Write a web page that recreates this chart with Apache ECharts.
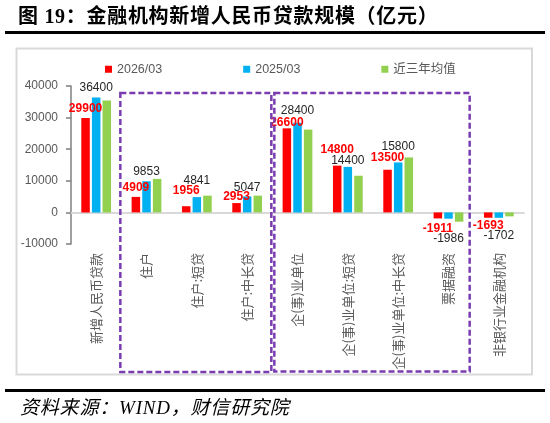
<!DOCTYPE html>
<html lang="zh">
<head>
    <meta charset="UTF-8">
    <title>金融机构新增人民币贷款规模</title>
    <script src="https://cdn.jsdelivr.net/npm/echarts@6/dist/echarts.min.js"></script>
    <style>
        body, html {
            margin: 0;
            padding: 0;
            background: #fff;
        }

        #page {
            position: relative;
            width: 550px;
            height: 423px;
            overflow: hidden;
        }

        #chart {
            position: absolute;
            left: 0;
            top: 0;
            width: 550px;
            height: 423px;
        }

        .title {
            position: absolute;
            left: 18px;
            top: 4px;
            font: bold 20px "Liberation Serif", "Noto Sans CJK SC", serif;
            line-height: 24px;
            letter-spacing: 0.7px;
            white-space: nowrap;
            color: #000;
        }

        .rule {
            position: absolute;
            left: 5px;
            width: 540px;
            background: #000;
        }

        .source {
            position: absolute;
            left: 20px;
            top: 397px;
            font: italic 19px "Liberation Serif", "Noto Sans CJK SC", serif;
            line-height: 22px;
            letter-spacing: 0.8px;
            white-space: nowrap;
            color: #000;
        }
    </style>
</head>
<body>

<div id="page">
    <div id="chart"></div>
    <div class="title">图 19：金融机构新增人民币贷款规模（亿元）</div>
    <div class="rule" style="top: 31px; height: 2.5px;"></div>
    <div class="rule" style="top: 389px; height: 3px;"></div>
    <div class="source">资料来源：WIND，财信研究院</div>
</div>

<script>
    // 分类
    const categories = ['新增人民币贷款', '住户', '住户:短贷', '住户:中长贷', '企(事)业单位',
        '企(事)业单位:短贷', '企(事)业单位:中长贷', '票据融资', '非银行业金融机构'];

    // 各序列数值（亿元）
    const values2026 = [29900, 4909, 1956, 2953, 26600, 14800, 13500, -1911, -1693];
    const values2025 = [36400, 9853, 4841, 5047, 28400, 14400, 15800, -1986, -1702];
    const valuesAvg3y = [35400, 10600, 5300, 5300, 26200, 11600, 17400, -2950, -1250];

    const seriesNames = ['2026/03', '2025/03', '近三年均值'];

    // 坐标轴刻度
    const yMin = -10000;
    const yMax = 40000;
    const yStep = 10000;

    // 数据标签离柱端的距离（原图里标签是手动错开的）
    const labelGap2026 = [3, 3, 10, 0, 0, 10, 6, 4, 2];
    const labelGap2025 = [4, 4, 10, 3, 6, 0, 10, 14, 12];

    const chart = echarts.init(document.getElementById('chart'));

    function withLabels(values, gaps) {
        return values.map((v, i) => ({
            value: v,
            label: {position: v < 0 ? 'bottom' : 'top', distance: gaps[i]}
        }));
    }

    const option = {
        animation: false,
        legend: {
            data: seriesNames,
            left: 100,
            top: 58,
            itemWidth: 7,
            itemHeight: 7,
            itemGap: 81,
            icon: 'rect',
            textStyle: {color: '#595959', fontSize: 12.5, fontFamily: 'Liberation Sans, Noto Sans CJK SC'}
        },
        grid: {left: 71, right: 26, top: 86, bottom: 179},
        xAxis: [
            {
                type: 'category',
                data: categories,
                position: 'bottom',
                axisLine: {show: false, onZero: false},
                axisTick: {show: false},
                axisLabel: {
                    interval: 0,
                    rotate: 90,
                    margin: 9,
                    color: '#595959',
                    fontSize: 13,
                    fontFamily: 'Noto Sans CJK SC'
                }
            },
            {
                // 零线
                type: 'category',
                data: categories,
                position: 'bottom',
                axisLine: {show: true, onZero: true, lineStyle: {color: '#d9d9d9', width: 2}},
                axisTick: {show: false},
                axisLabel: {show: false}
            }
        ],
        yAxis: {
            type: 'value',
            min: yMin,
            max: yMax,
            interval: yStep,
            axisLine: {show: true, onZero: false, lineStyle: {color: '#7f7f7f', width: 1.5}},
            axisTick: {show: true, length: 5, lineStyle: {color: '#7f7f7f', width: 1.5}},
            splitLine: {show: false},
            axisLabel: {
                color: '#595959',
                fontSize: 12,
                margin: 13,
                fontFamily: 'Liberation Sans',
                formatter: value => String(value)
            }
        },
        series: [
            {
                name: seriesNames[0],
                type: 'bar',
                barWidth: 8.5,
                barGap: '25%',
                itemStyle: {color: '#ff0000'},
                label: {
                    show: true,
                    color: '#ff0000',
                    fontWeight: 'bold',
                    fontSize: 12,
                    fontFamily: 'Liberation Sans'
                },
                data: withLabels(values2026, labelGap2026)
            },
            {
                name: seriesNames[1],
                type: 'bar',
                barWidth: 8.5,
                barGap: '25%',
                itemStyle: {color: '#00b0f0'},
                label: {
                    show: true,
                    color: '#262626',
                    fontSize: 12,
                    fontFamily: 'Liberation Sans'
                },
                data: withLabels(values2025, labelGap2025)
            },
            {
                name: seriesNames[2],
                type: 'bar',
                barWidth: 8.5,
                barGap: '25%',
                itemStyle: {color: '#92d050'},
                data: valuesAvg3y
            }
        ]
    };
    chart.setOption(option);

    // 外框和两个虚线分组框，横向位置按类目轴换算
    const px = i => chart.convertToPixel({xAxisIndex: 0}, i);
    const band = px(1) - px(0);
    const dash = {stroke: '#7a3db0', lineWidth: 2.5, lineDash: [6, 3], fill: 'none'};

    const box1Left = px(1) - band / 2 - 1;
    const box1Right = px(3) + band / 2 - 1;
    const box2Left = px(4) - band / 2 + 2;
    const box2Right = px(7) + band / 2 - 4;

    chart.setOption({
        graphic: [
            {
                type: 'rect',
                z: -10,
                silent: true,
                shape: {x: 16.5, y: 48.5, width: 515.5, height: 326},
                style: {stroke: '#d9d9d9', lineWidth: 2, fill: 'none'}
            },
            {
                type: 'rect',
                z: 10,
                silent: true,
                shape: {x: box1Left, y: 93, width: box1Right - box1Left, height: 279},
                style: dash
            },
            {
                type: 'rect',
                z: 10,
                silent: true,
                shape: {x: box2Left, y: 93, width: box2Right - box2Left, height: 278.5},
                style: dash
            }
        ]
    });
</script>

</body>
</html>
